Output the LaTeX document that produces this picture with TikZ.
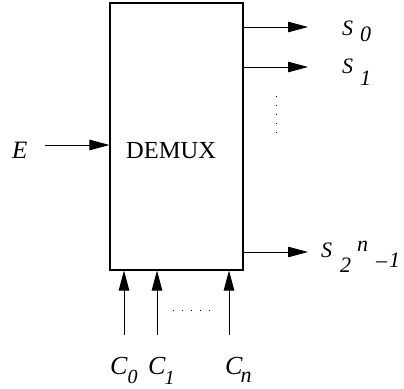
\documentclass[tikz,border=0pt]{standalone}
\usepackage{fontspec}
\setmainfont{Liberation Serif}
\usetikzlibrary{arrows.meta}

\begin{document}
\begin{tikzpicture}[
    x=1pt, y=-1pt,
    sig/.style={-{Triangle[length=20pt, width=10.5pt]}, line width=0.9pt},
    lbl/.style={inner sep=0pt, anchor=base west, font=\itshape\fontsize{22}{22}\selectfont},
    big/.style={lbl, font=\itshape\fontsize{26}{26}\selectfont}
]
    \useasboundingbox (0,0) rectangle (404,388);

    % --- Block ---
    \node (demux) [draw, line width=1.1pt, minimum width=133pt, minimum height=267pt, inner sep=0pt] at (176.5,136.5) {};
    \node (name) [lbl, font=\fontsize{24.5}{24}\selectfont] at (126,158) {DEMUX};

    % Eingang E
    \node (e) [big, font=\itshape\fontsize{25}{25}\selectfont] at (12,158) {E};
    \coordinate (ein) at (45,145);
    \draw[sig] (ein) -- (ein -| demux.west);

    % Ausgaenge
    \coordinate (s0) at (308,27);
    \coordinate (s1) at (308,67);
    \coordinate (sn) at (308,252);
    \draw[sig] (s0 -| demux.east) -- (s0);
    \draw[sig] (s1 -| demux.east) -- (s1);
    \draw[sig] (sn -| demux.east) -- (sn);
    \node (ls0) [lbl] at (342,35) {S\hspace{7pt}\raisebox{-6pt}{0}};
    \node (ls1) [lbl] at (342,73) {S\hspace{7pt}\raisebox{-12pt}{1}};
    \node (lsn) [lbl] at (321,257) {S\hspace{8pt}\raisebox{-15pt}{2}\hspace{6pt}\raisebox{6pt}{n}\hspace{8pt}\raisebox{-10pt}{\normalfont\fontsize{22}{22}\selectfont\textendash\itshape\hspace{2pt}1}};
    \draw[line width=1pt, dash pattern=on 1pt off 8pt] (276,96) -- (276,134);

    % Steuereingaenge
    \coordinate (c0) at (124,335);
    \coordinate (c1) at (157,335);
    \coordinate (cn) at (229,335);
    \draw[sig] (c0) -- (c0 |- demux.south);
    \draw[sig] (c1) -- (c1 |- demux.south);
    \draw[sig] (cn) -- (cn |- demux.south);
    \draw[line width=1pt, dash pattern=on 1pt off 8pt] (173,310) -- (211,310);
    \node (lc0) [big] at (110,374) {C\raisebox{-9pt}{\fontsize{20}{20}\selectfont 0}};
    \node (lc1) [big] at (148,374) {C\hspace{-1pt}\raisebox{-10pt}{\fontsize{20}{20}\selectfont 1}};
    \node (lcn) [big] at (225,374) {C\hspace{-2pt}\raisebox{-8pt}{\fontsize{22}{22}\selectfont n}};
\end{tikzpicture}
\end{document}
